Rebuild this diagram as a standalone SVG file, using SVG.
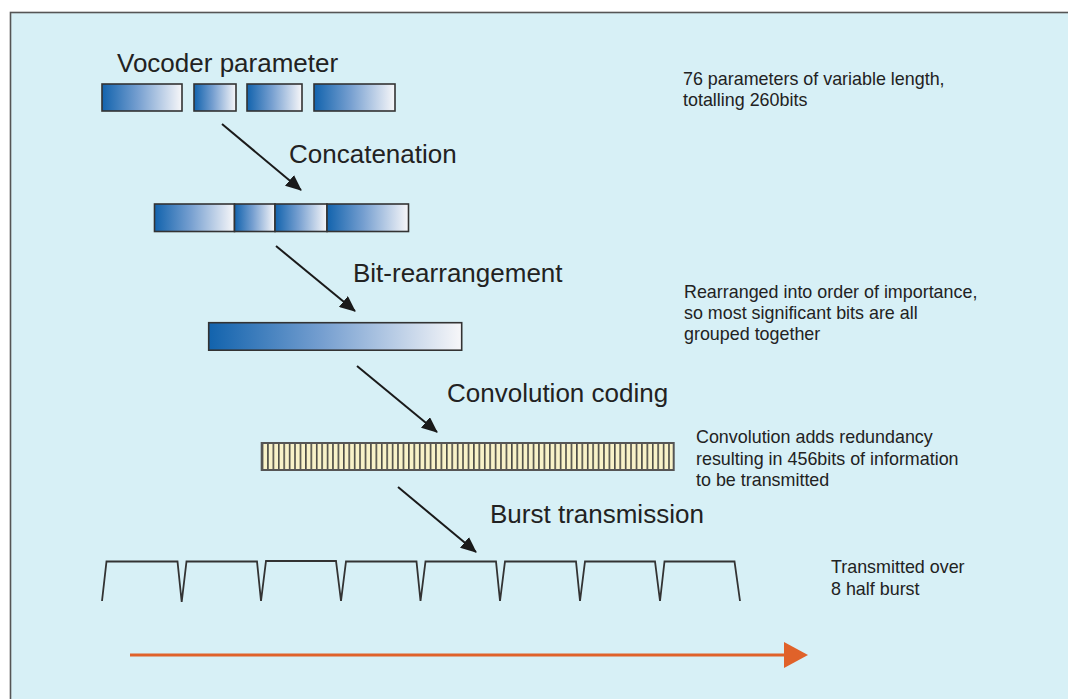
<svg xmlns="http://www.w3.org/2000/svg" width="1068" height="699" viewBox="0 0 1068 699">
<style>
.big{font-family:"Liberation Sans",Arial,sans-serif;font-size:26px;fill:#222}
.small{font-family:"Liberation Sans",Arial,sans-serif;font-size:17.9px;fill:#222}
.box{stroke:#333;stroke-width:1.6;fill:url(#grad)}
.arrow{stroke:#1a1a1a;stroke-width:2;fill:none;marker-end:url(#ah)}
</style>
<defs>
<linearGradient id="grad" x1="0" y1="0" x2="1" y2="0">
<stop offset="0" stop-color="#1263ad"/>
<stop offset="0.45" stop-color="#769fd0"/>
<stop offset="1" stop-color="#f7f7f9"/>
</linearGradient>
<pattern id="stripes" x="261.7" y="443" width="5.42" height="28" patternUnits="userSpaceOnUse">
<rect x="0" y="0" width="5.42" height="28" fill="#f8f2c8"/>
<rect x="0" y="0" width="1.6" height="28" fill="#4a4a44"/>
</pattern>
<marker id="ah" viewBox="0 0 16 14" refX="15" refY="7" markerWidth="16" markerHeight="14" markerUnits="userSpaceOnUse" orient="auto">
<path d="M0,0 L16,7 L0,14 z" fill="#1a1a1a"/>
</marker>
</defs>
<rect x="0" y="0" width="1068" height="699" fill="#ffffff"/>
<rect x="10.5" y="12.5" width="1070" height="700" fill="#d7f0f6" stroke="#555" stroke-width="1.6"/>

<g id="vocoder">
<text class="big" x="117" y="72">Vocoder parameter</text>
<rect class="box" x="102" y="84" width="80" height="27"/>
<rect class="box" x="194" y="84" width="42" height="27"/>
<rect class="box" x="247" y="84" width="55" height="27"/>
<rect class="box" x="314" y="84" width="81" height="27"/>
</g>
<g id="note1">
<text class="small" x="683" y="85">76 parameters of variable length,</text>
<text class="small" x="683" y="106">totalling 260bits</text>
</g>

<g id="concatenation">
<text class="big" x="289" y="163">Concatenation</text>
<rect class="box" x="154.5" y="204" width="80" height="27.5"/>
<rect class="box" x="234.5" y="204" width="40.5" height="27.5"/>
<rect class="box" x="275" y="204" width="52" height="27.5"/>
<rect class="box" x="327" y="204" width="81.5" height="27.5"/>
</g>

<g id="rearrangement">
<text class="big" x="353" y="282">Bit-rearrangement</text>
<rect class="box" x="208.7" y="322.7" width="253" height="27.5"/>
</g>
<g id="note2">
<text class="small" x="684" y="298">Rearranged into order of importance,</text>
<text class="small" x="684" y="319">so most significant bits are all</text>
<text class="small" x="684" y="340">grouped together</text>
</g>

<g id="convolution">
<text class="big" x="447" y="402">Convolution coding</text>
<rect x="261.7" y="443" width="412" height="27" fill="url(#stripes)" stroke="#555" stroke-width="2"/>
</g>
<g id="note3">
<text class="small" x="696" y="443">Convolution adds redundancy</text>
<text class="small" x="696" y="465">resulting in 456bits of information</text>
<text class="small" x="696" y="486">to be transmitted</text>
</g>

<g id="burst">
<text class="big" x="490" y="523">Burst transmission</text>
<path d="M102,601 L106.5,561.5 L177.5,561.5 L181.7,602 L186.5,561.5 L257,561.5 L261,601 L266,561 L336,561 L341,601 L346,561.5 L416.5,561.5 L420.5,601 L425.5,561.5 L496,561.5 L500,601 L505,561.5 L576,561.5 L580,601 L585,561.5 L655,561.5 L660,601 L664.5,561.5 L734.5,561.5 L740,601" fill="none" stroke="#333" stroke-width="1.8" stroke-linejoin="miter"/>
</g>
<g id="note4">
<text class="small" x="831" y="573">Transmitted over</text>
<text class="small" x="831" y="595">8 half burst</text>
</g>

<g id="connectors">
<line class="arrow" x1="222" y1="124" x2="301" y2="190"/>
<line class="arrow" x1="276" y1="246" x2="355" y2="311"/>
<line class="arrow" x1="357" y1="366" x2="437" y2="432"/>
<line class="arrow" x1="398" y1="487" x2="476" y2="552"/>
<line x1="130" y1="655" x2="788" y2="655" stroke="#e0622a" stroke-width="3"/>
<polygon points="784,642 808,655 784,668" fill="#e0622a"/>
</g>
</svg>
